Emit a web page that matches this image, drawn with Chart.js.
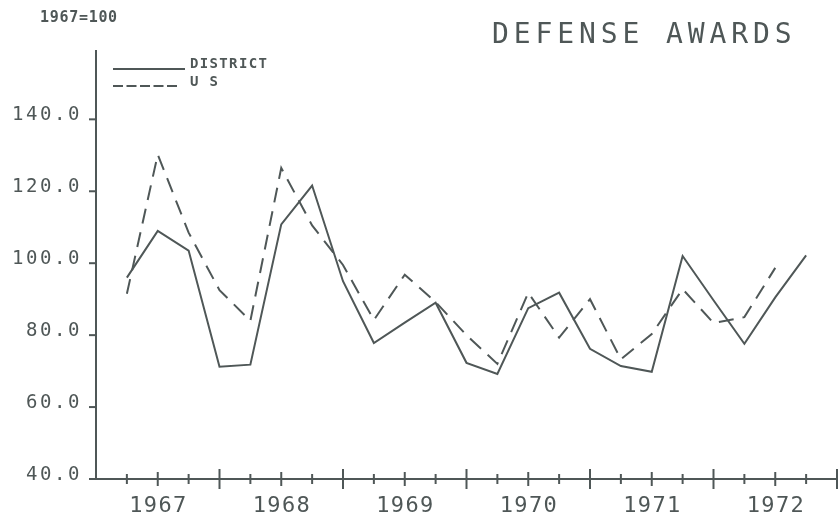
<!DOCTYPE html>
<html>
<head>
<meta charset="utf-8">
<script src="https://cdn.jsdelivr.net/npm/chart.js@4.4.1/dist/chart.umd.min.js"></script>
<style>
  html, body { margin: 0; padding: 0; background: #fff; }
  #wrap { position: relative; width: 839px; height: 519px; }
</style>
</head>
<body>
<div id="wrap"><canvas id="chart" width="839" height="519"></canvas></div>
<script>
// quarterly index, 1967=100
const quarters = [
  '1967Q1', '1967Q2', '1967Q3', '1967Q4',
  '1968Q1', '1968Q2', '1968Q3', '1968Q4',
  '1969Q1', '1969Q2', '1969Q3', '1969Q4',
  '1970Q1', '1970Q2', '1970Q3', '1970Q4',
  '1971Q1', '1971Q2', '1971Q3', '1971Q4',
  '1972Q1', '1972Q2', '1972Q3'
];
const district = [96, 109, 103.5, 71.2, 71.8, 110.8, 121.6, 95, 77.8, 83.5, 89, 72.3,
  69.2, 87.5, 91.8, 76.2, 71.4, 69.8, 102, 89.7, 77.6, 90.5, 102.2];
const us = [91.5, 130.2, 108.5, 92.5, 84, 126.5, 110.5, 99.5, 84.2, 96.8, 89.2, 80,
  72, 91.8, 79.3, 90, 73.3, 80.3, 92.8, 83.4, 85, 98.7];
const yearLabels = ['1967', '1968', '1969', '1970', '1971', '1972'];
const yTicks = [40, 60, 80, 100, 120, 140];

const INK = '#4f5757';
const MONO = '"DejaVu Sans Mono", monospace';

// position of a quarter on the time axis (end of quarter)
const qPos = q => Number(q.slice(0, 4)) + Number(q.slice(5)) * 0.25;
const toPoints = vals => vals.map((v, i) => ({ x: qPos(quarters[i]), y: v }));

function spacedText(ctx, text, x, y, ls, align) {
  const widths = [...text].map(c => ctx.measureText(c).width);
  const total = widths.reduce((s, w) => s + w, 0) + ls * (text.length - 1);
  let cx = align === 'right' ? x - total : align === 'center' ? x - total / 2 : x;
  ctx.textAlign = 'left';
  [...text].forEach((c, i) => {
    ctx.fillText(c, cx, y);
    cx += widths[i] + ls;
  });
}

const plotterDecor = {
  id: 'plotterDecor',
  afterDraw(chart) {
    const { ctx, chartArea, scales } = chart;
    const xs = scales.x, ys = scales.y;
    ctx.save();
    ctx.strokeStyle = INK;
    ctx.fillStyle = INK;
    ctx.lineWidth = 2;
    ctx.textBaseline = 'alphabetic';

    // x ticks: quarter, half-year, year
    for (let v = 1967.25; v <= 1973.001; v += 0.25) {
      const frac = Math.round((v % 1) * 4);
      const len = frac === 0 ? 10 : frac === 2 ? 7 : 5;
      const px = xs.getPixelForValue(v);
      ctx.beginPath();
      ctx.moveTo(px, chartArea.bottom - len);
      ctx.lineTo(px, chartArea.bottom + len);
      ctx.stroke();
    }
    // y ticks
    yTicks.forEach(t => {
      const py = ys.getPixelForValue(t);
      ctx.beginPath();
      ctx.moveTo(chartArea.left - 7, py);
      ctx.lineTo(chartArea.left, py);
      ctx.stroke();
    });

    // y labels sit on the tick
    ctx.font = '19px ' + MONO;
    yTicks.forEach(t => {
      spacedText(ctx, t.toFixed(1), 79.5, ys.getPixelForValue(t) + 1, 2.6, 'right');
    });
    // year labels under the mid-year tick
    ctx.font = '22px ' + MONO;
    yearLabels.forEach(y => {
      spacedText(ctx, y, xs.getPixelForValue(Number(y) + 0.5), 512, 1.3, 'center');
    });

    // title and unit note
    ctx.font = '28px ' + MONO;
    spacedText(ctx, 'DEFENSE AWARDS', 492, 43, 4.9, 'left');
    ctx.font = 'bold 15px ' + MONO;
    spacedText(ctx, '1967=100', 40, 22, 0.7, 'left');

    // legend
    ctx.beginPath();
    ctx.moveTo(113, 69);
    ctx.lineTo(185, 69);
    ctx.stroke();
    ctx.setLineDash([10, 3.5]);
    ctx.beginPath();
    ctx.moveTo(113, 86);
    ctx.lineTo(177, 86);
    ctx.stroke();
    ctx.setLineDash([]);
    ctx.font = 'bold 14px ' + MONO;
    spacedText(ctx, 'DISTRICT', 190, 68, 1.35, 'left');
    spacedText(ctx, 'U S', 190, 86, 1.35, 'left');
    ctx.restore();
  }
};

new Chart(document.getElementById('chart'), {
  type: 'line',
  data: {
    datasets: [
      {
        label: 'DISTRICT',
        data: toPoints(district),
        borderColor: INK,
        borderWidth: 2,
        pointRadius: 0,
        tension: 0,
        fill: false
      },
      {
        label: 'U S',
        data: toPoints(us),
        borderColor: INK,
        borderWidth: 2,
        borderDash: [15, 9],
        pointRadius: 0,
        tension: 0,
        fill: false
      }
    ]
  },
  options: {
    responsive: false,
    animation: false,
    devicePixelRatio: 1,
    layout: { padding: { top: 51, right: 2, left: 0, bottom: 0 } },
    plugins: {
      legend: { display: false },
      title: { display: false },
      tooltip: { enabled: false }
    },
    scales: {
      x: {
        type: 'linear',
        min: 1967,
        max: 1973,
        grid: { display: false },
        border: { display: true, color: INK, width: 2 },
        ticks: { display: false },
        afterFit: s => { s.height = 40; }
      },
      y: {
        type: 'linear',
        min: 40,
        max: 159,
        grid: { display: false },
        border: { display: true, color: INK, width: 2 },
        ticks: { display: false },
        afterFit: s => { s.width = 96; }
      }
    }
  },
  plugins: [plotterDecor]
});
</script>
</body>
</html>
